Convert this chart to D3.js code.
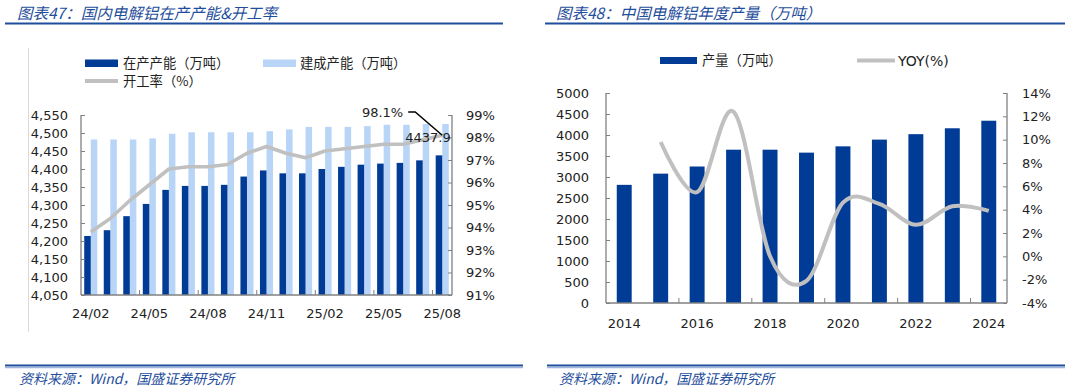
<!DOCTYPE html>
<html><head><meta charset="utf-8">
<script src="https://cdn.jsdelivr.net/npm/d3@7"></script>
<style>
html,body{margin:0;padding:0;background:#fff;}
svg text{font-family:"DejaVu Sans",Verdana,sans-serif;}
.cjk{font-family:"Noto Sans CJK SC","DejaVu Sans",sans-serif;}
</style></head>
<body><svg id="c" width="1065" height="391"></svg>
<script>
// ---- Left chart data ----
const months = ["24/02","24/03","24/04","24/05","24/06","24/07","24/08","24/09","24/10","24/11","24/12","25/01","25/02","25/03","25/04","25/05","25/06","25/07","25/08"];
const inProduction = [4214,4230,4269,4303,4342,4353,4353,4356,4379,4396,4388,4388,4400,4406,4412,4415,4417,4424,4437.9];
const builtCapacity = [4482,4482,4482,4485,4498,4502,4502,4502,4502,4505,4510,4517,4517,4517,4519,4523,4523,4525,4525];
const operatingRate = [93.8,94.4,95.2,95.9,96.6,96.7,96.7,96.8,97.3,97.6,97.3,97.1,97.4,97.5,97.6,97.7,97.7,97.9,98.1];
const leftTicksL = [4050,4100,4150,4200,4250,4300,4350,4400,4450,4500,4550];
const leftTicksR = [91,92,93,94,95,96,97,98,99];
const monthLabels = ["24/02","24/05","24/08","24/11","25/02","25/05","25/08"];

// ---- Right chart data ----
const years = [2014,2015,2016,2017,2018,2019,2020,2021,2022,2023,2024];
const output = [2813,3080,3250,3650,3650,3580,3730,3890,4020,4160,4340];
const yoy = [null,9.8,5.5,12.4,0.0,-2.1,4.6,4.5,2.7,4.3,3.9];
const rightTicksL = [0,500,1000,1500,2000,2500,3000,3500,4000,4500,5000];
const rightTicksR = [-4,-2,0,2,4,6,8,10,12,14];
const yearLabels = [2014,2016,2018,2020,2022,2024];

const DARK = "#003c96", LIGHT = "#b8d5f8", GRAY = "#c0c0c0", AXIS = "#808080", TXT = "#222";
const TBLUE = "#1f4e9c";
const svg = d3.select("#c");

// ---- Titles, rules, footers ----
function header(x0, x1, tx, title){
  svg.append("text").attr("class","cjk").attr("x",tx).attr("y",19)
    .attr("font-size",15.5).attr("font-style","italic").attr("fill",TBLUE).text(title);
  svg.append("line").attr("x1",x0).attr("x2",x1).attr("y1",23.5).attr("y2",23.5)
    .attr("stroke",TBLUE).attr("stroke-width",2);
}
function footer(x0, x1, tx){
  svg.append("line").attr("x1",x0).attr("x2",x1).attr("y1",365.5).attr("y2",365.5)
    .attr("stroke",TBLUE).attr("stroke-width",2);
  svg.append("line").attr("x1",x0).attr("x2",x1).attr("y1",367.5).attr("y2",367.5)
    .attr("stroke","#9db5de").attr("stroke-width",1.5);
  svg.append("text").attr("class","cjk").attr("x",tx).attr("y",384)
    .attr("font-size",14).attr("font-style","italic").attr("fill",TBLUE).text("资料来源：Wind，国盛证券研究所");
}
header(5, 503, 17, "图表47：国内电解铝在产产能&开工率");
header(545, 1065, 556, "图表48：中国电解铝年度产量（万吨）");
footer(5, 523, 19);
footer(547, 1065, 559);

// ---- Left chart ----
(function(){
  const L = 81, R = 452, T = 115, B = 295;
  svg.append("line").attr("x1",28.5).attr("x2",28.5).attr("y1",48).attr("y2",332)
    .attr("stroke","#d9d9d9").attr("stroke-width",1);
  const x = d3.scaleBand().domain(months).range([L,R]).paddingInner(0).paddingOuter(0);
  const bw = x.bandwidth();
  const x1 = d3.scaleBand().domain(["a","b"]).range([bw*0.165, bw*0.835]);
  const yL = d3.scaleLinear().domain([4050,4550]).range([B,T]);
  const yR = d3.scaleLinear().domain([91,99]).range([B,T]);

  const g = svg.append("g");
  g.selectAll(".lb").data(builtCapacity).join("rect")
    .attr("x",(d,i)=>x(months[i])+x1("b")).attr("width",x1.bandwidth())
    .attr("y",d=>yL(d)).attr("height",d=>B-yL(d)).attr("fill",LIGHT);
  g.selectAll(".db").data(inProduction).join("rect")
    .attr("x",(d,i)=>x(months[i])+x1("a")).attr("width",x1.bandwidth())
    .attr("y",d=>yL(d)).attr("height",d=>B-yL(d)).attr("fill",DARK);

  const line = d3.line().x((d,i)=>x(months[i])+bw/2).y(d=>yR(d));
  g.append("path").datum(operatingRate).attr("d",line).attr("fill","none")
    .attr("stroke",GRAY).attr("stroke-width",3.6).attr("stroke-linejoin","round");

  // axes
  const axL = d3.axisLeft(yL).tickValues(leftTicksL).tickSize(-4).tickPadding(13).tickFormat(d3.format(","));
  const gl = svg.append("g").attr("transform",`translate(${L},0)`).call(axL);
  const axR = d3.axisRight(yR).tickValues(leftTicksR).tickSize(-4).tickPadding(14).tickFormat(d=>d+"%");
  const gr = svg.append("g").attr("transform",`translate(${R},0)`).call(axR);
  const axB = d3.axisBottom(x).tickValues(monthLabels).tickSize(0).tickPadding(14);
  const gb = svg.append("g").attr("transform",`translate(0,${B})`).call(axB);
  const tickPos = months.filter((m,i)=>i>0 && i%3===0);
  svg.append("g").selectAll("line").data(tickPos).join("line")
    .attr("x1",d=>x(d)).attr("x2",d=>x(d)).attr("y1",B).attr("y2",B-5).attr("stroke",AXIS);
  [gl,gr,gb].forEach(a=>{
    a.selectAll("path.domain").attr("stroke",AXIS).attr("stroke-width",1.3);
    a.selectAll(".tick line").attr("stroke",AXIS);
    a.selectAll("text").attr("font-size",13).attr("fill",TXT).attr("font-family","DejaVu Sans");
  });
  gb.select("path.domain").attr("d",`M${L},0H${R}`);
  gl.select("path.domain").attr("d",`M0,${T}V${B}`);
  gr.select("path.domain").attr("d",`M0,${T}V${B}`);

  // annotations
  const n = months.length - 1;
  const px = x(months[n]) + bw/2, py = yR(operatingRate[n]);
  svg.append("path").attr("d",`M${px-34},${112}H${px-27}L${px},${py}`)
    .attr("fill","none").attr("stroke","#000").attr("stroke-width",1.5);
  svg.append("text").attr("x",px-39).attr("y",117).attr("text-anchor","end")
    .attr("font-size",13).attr("fill",TXT).text(operatingRate[n].toFixed(1)+"%");
  const bx = x(months[n]) + x1("a") + x1.bandwidth()/2;
  svg.append("text").attr("x",bx-11).attr("y",yL(inProduction[n])-13).attr("text-anchor","middle")
    .attr("font-size",13).attr("fill",TXT).text(inProduction[n].toFixed(1));

  // legend
  svg.append("rect").attr("x",85).attr("y",59.5).attr("width",33).attr("height",7.5).attr("fill",DARK);
  svg.append("text").attr("class","cjk").attr("x",123).attr("y",67.5).attr("font-size",13.3).attr("fill",TXT).text("在产产能（万吨）");
  svg.append("rect").attr("x",263).attr("y",59.5).attr("width",33).attr("height",7.5).attr("fill",LIGHT);
  svg.append("text").attr("class","cjk").attr("x",300).attr("y",67.5).attr("font-size",13.3).attr("fill",TXT).text("建成产能（万吨）");
  svg.append("line").attr("x1",85).attr("x2",118).attr("y1",81).attr("y2",81).attr("stroke",GRAY).attr("stroke-width",4);
  svg.append("text").attr("class","cjk").attr("x",123).attr("y",86).attr("font-size",13.3).attr("fill",TXT).text("开工率（%）");
})();

// ---- Right chart ----
(function(){
  const L = 606, R = 1007, T = 93, B = 303;
  const x = d3.scaleBand().domain(years).range([L,R]).paddingInner(0).paddingOuter(0);
  const bw = x.bandwidth();
  const yL = d3.scaleLinear().domain([0,5000]).range([B,T]);
  const yR = d3.scaleLinear().domain([-4,14]).range([B,T]);
  svg.append("g").selectAll("rect").data(output).join("rect")
    .attr("x",(d,i)=>x(years[i])+bw*0.295).attr("width",bw*0.41)
    .attr("y",d=>yL(d)).attr("height",d=>B-yL(d)).attr("fill",DARK);
  const pts = yoy.map((v,i)=>[years[i],v]).filter(p=>p[1]!==null);
  const line = d3.line().x(p=>x(p[0])+bw/2).y(p=>yR(p[1])).curve(d3.curveCardinal.tension(0));
  svg.append("path").datum(pts).attr("d",line).attr("fill","none")
    .attr("stroke",GRAY).attr("stroke-width",4).attr("stroke-linecap","butt");

  const axL = d3.axisLeft(yL).tickValues(rightTicksL).tickSize(-4).tickPadding(17).tickFormat(d3.format("d"));
  const gl = svg.append("g").attr("transform",`translate(${L},0)`).call(axL);
  const axR = d3.axisRight(yR).tickValues(rightTicksR).tickSize(-4).tickPadding(15).tickFormat(d=>d+"%");
  const gr = svg.append("g").attr("transform",`translate(${R},0)`).call(axR);
  const axB = d3.axisBottom(x).tickValues(yearLabels).tickSize(0).tickPadding(16);
  const gb = svg.append("g").attr("transform",`translate(0,${B})`).call(axB);
  const tickPos = years.filter((y,i)=>i>0 && i%2===0);
  svg.append("g").selectAll("line").data(tickPos).join("line")
    .attr("x1",d=>x(d)).attr("x2",d=>x(d)).attr("y1",B).attr("y2",B-5).attr("stroke",AXIS);
  [gl,gr,gb].forEach(a=>{
    a.selectAll("path.domain").attr("stroke",AXIS).attr("stroke-width",1.3);
    a.selectAll(".tick line").attr("stroke",AXIS);
    a.selectAll("text").attr("font-size",13).attr("fill",TXT).attr("font-family","DejaVu Sans");
  });
  gb.select("path.domain").attr("d",`M${L},0H${R}`);
  gl.select("path.domain").attr("d",`M0,${T}V${B}`);
  gr.select("path.domain").attr("d",`M0,${T}V${B}`);

  svg.append("rect").attr("x",660).attr("y",57).attr("width",37).attr("height",7).attr("fill",DARK);
  svg.append("text").attr("class","cjk").attr("x",702).attr("y",65).attr("font-size",13.3).attr("fill",TXT).text("产量（万吨）");
  svg.append("line").attr("x1",857).attr("x2",895).attr("y1",60.5).attr("y2",60.5).attr("stroke",GRAY).attr("stroke-width",4);
  svg.append("text").attr("x",898).attr("y",65.5).attr("font-size",14).attr("fill",TXT).text("YOY(%)");
})();
</script></body></html>
